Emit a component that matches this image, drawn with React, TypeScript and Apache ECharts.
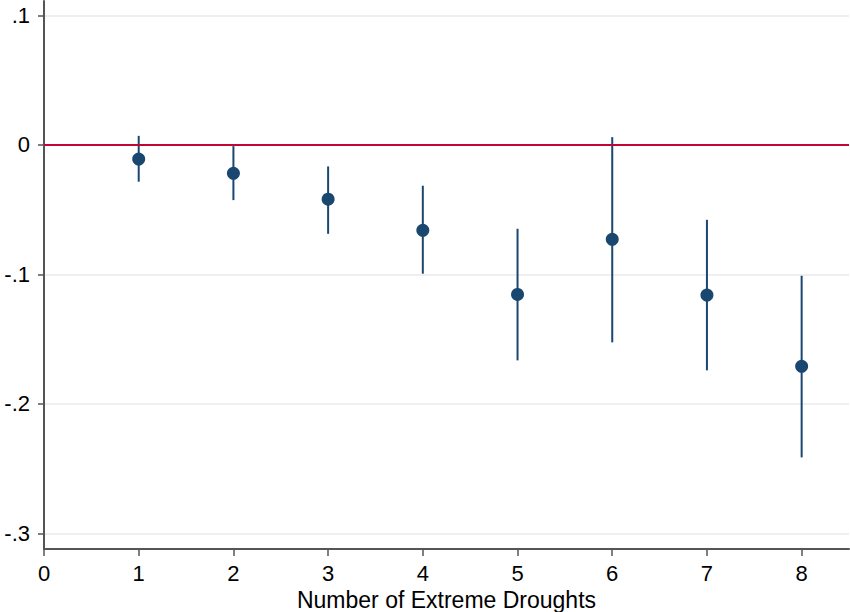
import React, { useEffect, useRef } from "react";
import * as echarts from "echarts";

const droughts = [1, 2, 3, 4, 5, 6, 7, 8];
const estimates = [-0.011, -0.022, -0.042, -0.066, -0.1155, -0.073, -0.116, -0.171];
const ciLower = [-0.0285, -0.0427, -0.0687, -0.0995, -0.1664, -0.1525, -0.1741, -0.2413];
const ciUpper = [0.0069, -0.001, -0.0167, -0.0316, -0.0648, 0.0059, -0.0579, -0.1011];
const yTicks = [-0.3, -0.2, -0.1, 0, 0.1];
const xTicks = [0, 1, 2, 3, 4, 5, 6, 7, 8];

const NAVY = "#1a476f";
const RED = "#c10534";
const AXIS = "#555555";
const FONT = "'Liberation Sans', Arial, Helvetica, sans-serif";

function fmtY(v: number): string {
  if (Math.abs(v) < 1e-9) return "0";
  const s = (Math.round(v * 10) / 10).toString();
  return s.replace("0.", ".");
}

export default function App() {
  const ref = useRef<HTMLDivElement>(null);
  useEffect(() => {
    if (!ref.current) return;
    const chart = echarts.init(ref.current, undefined, { renderer: "svg" });
    const ciData = droughts.map((d, i) => [d, ciLower[i], ciUpper[i]]);
    const ptData = droughts.map((d, i) => [d, estimates[i]]);
    chart.setOption({
      animation: false,
      backgroundColor: "#ffffff",
      grid: { left: 44, right: 1, top: 1, bottom: 63, containLabel: false, outerBoundsMode: "none" },
      xAxis: {
        type: "value",
        min: 0,
        max: 8.5,
        interval: 1,
        name: "Number of Extreme Droughts",
        nameLocation: "middle",
        nameGap: 36,
        nameTextStyle: { fontFamily: FONT, fontSize: 23, color: "#000" },
        axisLine: { show: true, onZero: false, lineStyle: { color: AXIS, width: 2 } },
        axisTick: { show: true, length: 7, lineStyle: { color: AXIS, width: 1.5 }, customValues: xTicks },
        axisLabel: { fontFamily: FONT, fontSize: 22, color: "#000", margin: 13, customValues: xTicks },
        splitLine: { show: false },
      },
      yAxis: {
        type: "value",
        min: -0.312,
        max: 0.111,
        axisLine: { show: true, onZero: false, lineStyle: { color: AXIS, width: 2 } },
        axisTick: { show: true, length: 6, lineStyle: { color: AXIS, width: 1.5 }, customValues: yTicks },
        axisLabel: {
          fontFamily: FONT,
          fontSize: 22,
          color: "#000",
          margin: 14,
          customValues: yTicks,
          formatter: (v: number) => fmtY(v),
        },
        splitLine: { show: true, lineStyle: { color: "#eaeaea", width: 1.5 } },
      },
      series: [
        {
          type: "line",
          data: [],
          z: 1,
          markLine: {
            silent: true,
            symbol: "none",
            label: { show: false },
            lineStyle: { color: RED, width: 2, type: "solid" },
            data: [{ yAxis: 0 }],
          },
        },
        {
          type: "custom",
          z: 3,
          data: ciData,
          renderItem: (params: any, api: any) => {
            const x = api.value(0);
            const lo = api.coord([x, api.value(1)]);
            const hi = api.coord([x, api.value(2)]);
            return {
              type: "line",
              shape: { x1: lo[0], y1: lo[1], x2: hi[0], y2: hi[1] },
              style: { stroke: NAVY, lineWidth: 2 },
            };
          },
        },
        {
          type: "scatter",
          z: 4,
          data: ptData,
          symbol: "circle",
          symbolSize: 13,
          itemStyle: { color: NAVY, opacity: 1 },
        },
      ],
    });
    return () => chart.dispose();
  }, []);
  return (
    <div
      ref={ref}
      style={{ position: "fixed", left: 0, top: 0, width: 850, height: 612 }}
    />
  );
}
